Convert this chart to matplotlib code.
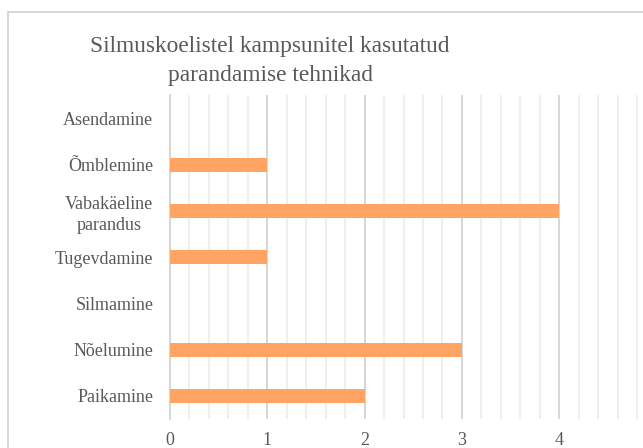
import matplotlib
matplotlib.use("Agg")
import matplotlib.pyplot as plt
from matplotlib.patches import Rectangle
from matplotlib.ticker import MultipleLocator, FixedLocator

categories = ["Paikamine", "Nõelumine", "Silmamine", "Tugevdamine",
              "Vabakäeline\nparandus", "Õmblemine", "Asendamine"]
values = [2, 3, 0, 1, 4, 1, 0]
x_ticks = [0, 1, 2, 3, 4]
title = "Silmuskoelistel kampsunitel kasutatud\nparandamise tehnikad"

plt.rcParams['font.family'] = ['Liberation Serif', 'DejaVu Serif']
txt = "#595959"

fig = plt.figure(figsize=(6.43, 4.48), dpi=100)
fig.patch.set_facecolor("white")
fig.patches.append(Rectangle((8/643, -0.1), 1.2, (448-12)/448 + 0.1,
                             transform=fig.transFigure, fill=False,
                             edgecolor="#d0d0d0", linewidth=1.2))

ax = fig.add_axes([170/643, 29/448, 486.5/643, 323.6/448])
y = range(len(categories))
ax.barh(y, values, height=0.3, color="#FFA462", edgecolor="none",
        linewidth=0, zorder=3)
ax.set_xlim(0, 5)
ax.set_ylim(-0.5, len(categories) - 0.5)
ax.set_yticks(list(y))
ax.set_yticklabels(categories, multialignment="center", linespacing=1.3)
ax.xaxis.set_major_locator(FixedLocator(x_ticks))
ax.xaxis.set_minor_locator(MultipleLocator(0.2))
ax.grid(axis="x", which="major", color="#d6d6d6", linewidth=1.4, zorder=1)
ax.grid(axis="x", which="minor", color="#efefef", linewidth=1.4, zorder=0)
for s in ["top", "right", "bottom"]:
    ax.spines[s].set_visible(False)
ax.spines["left"].set_color("#d6d6d6")
ax.spines["left"].set_linewidth(1.4)
ax.tick_params(axis="both", which="both", length=0, labelsize=13, colors=txt)
ax.tick_params(axis="y", pad=12)
ax.tick_params(axis="x", pad=9)
ax.set_facecolor("none")

fig.text(270/643, (448-61)/448, title, ha="center", va="center",
         fontsize=16.8, color=txt, linespacing=1.45)

fig.savefig("out.png", dpi=100)
